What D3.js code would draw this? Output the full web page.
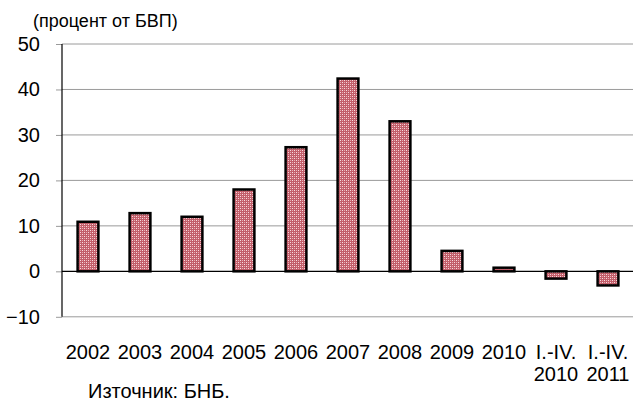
<!DOCTYPE html>
<html><head><meta charset="utf-8">
<script src="https://cdn.jsdelivr.net/npm/d3@7"></script>
<style>
html,body{margin:0;padding:0;background:#fff;}
svg{display:block;font-family:"Liberation Sans",Arial,sans-serif;}
</style></head>
<body>
<svg id="chart" width="633" height="401"></svg>
<script>
const categories = ["2002","2003","2004","2005","2006","2007","2008","2009","2010","I.-IV. 2010","I.-IV. 2011"];
const values = [10.9, 12.8, 12.0, 18.0, 27.3, 42.4, 33.0, 4.5, 0.8, -1.6, -3.1];
const yTicks = [-10, 0, 10, 20, 30, 40, 50];
const unitLabel = "(процент от БВП)";
const sourceLabel = "Източник: БНБ.";

const svg = d3.select("#chart");
const W = 633;

const defs = svg.append("defs");
const pat = defs.append("pattern").attr("id","dots").attr("patternUnits","userSpaceOnUse")
  .attr("width",4).attr("height",4);
pat.append("rect").attr("width",4).attr("height",4).attr("fill","#c25e6a");
pat.append("rect").attr("x",0).attr("y",0).attr("width",1).attr("height",1).attr("fill","#f6dde0");
pat.append("rect").attr("x",2).attr("y",2).attr("width",1).attr("height",1).attr("fill","#f6dde0");
pat.append("rect").attr("x",2).attr("y",0).attr("width",1).attr("height",1).attr("fill","#e8aab2");
pat.append("rect").attr("x",0).attr("y",2).attr("width",1).attr("height",1).attr("fill","#e8aab2");

const x = d3.scaleBand().domain(categories).range([62, 634]).paddingInner(0.6).paddingOuter(0.3);
const y = d3.scaleLinear().domain([-10, 50]).range([316.8, 44]);

// gridlines
svg.append("g").selectAll("line").data(yTicks.filter(t => t !== 0)).join("line")
  .attr("x1", 62).attr("x2", W).attr("y1", d => y(d)).attr("y2", d => y(d))
  .attr("stroke", "#9a9a9a").attr("stroke-width", 1);

// y axis
const yAxis = d3.axisLeft(y).tickValues(yTicks).tickSize(6).tickPadding(16).tickFormat(d3.format("d"));
const gy = svg.append("g").attr("transform", "translate(62,0)").call(yAxis);
gy.select(".domain").remove();
gy.selectAll(".tick line").attr("stroke", "#9a9a9a");
gy.selectAll(".tick text").attr("font-size", 20).attr("fill", "#000")
  .attr("font-family", '"Liberation Sans",Arial,sans-serif');
svg.append("line").attr("x1", 62).attr("x2", 62).attr("y1", y(50)).attr("y2", y(-10))
  .attr("stroke", "#000").attr("stroke-width", 1.2);

// bars
svg.append("g").selectAll("rect").data(values).join("rect")
  .attr("x", (d, i) => x(categories[i]))
  .attr("width", x.bandwidth())
  .attr("y", d => y(Math.max(0, d)))
  .attr("height", d => Math.abs(y(d) - y(0)))
  .attr("fill", "url(#dots)")
  .attr("stroke", "#000").attr("stroke-width", 2.5);

// zero line
svg.append("line").attr("x1", 62).attr("x2", W).attr("y1", y(0)).attr("y2", y(0))
  .attr("stroke", "#000").attr("stroke-width", 1.2);

// x labels
const xl = svg.append("g").selectAll("text").data(categories).join("text")
  .attr("x", d => x(d) + x.bandwidth() / 2)
  .attr("y", 358.5)
  .attr("text-anchor", "middle")
  .attr("font-size", 20).attr("fill", "#000");
xl.each(function(d) {
  const parts = d.split(" ");
  const t = d3.select(this);
  parts.forEach((p, i) => {
    t.append("tspan").attr("x", x(d) + x.bandwidth() / 2).attr("dy", i === 0 ? 0 : 22.5).text(p);
  });
});

// unit label
svg.append("text").attr("x", 33).attr("y", 27).attr("font-size", 18).attr("fill", "#000").text(unitLabel);
// source
svg.append("text").attr("x", 88).attr("y", 398).attr("font-size", 20).attr("fill", "#000").text(sourceLabel);
</script>
</body></html>
